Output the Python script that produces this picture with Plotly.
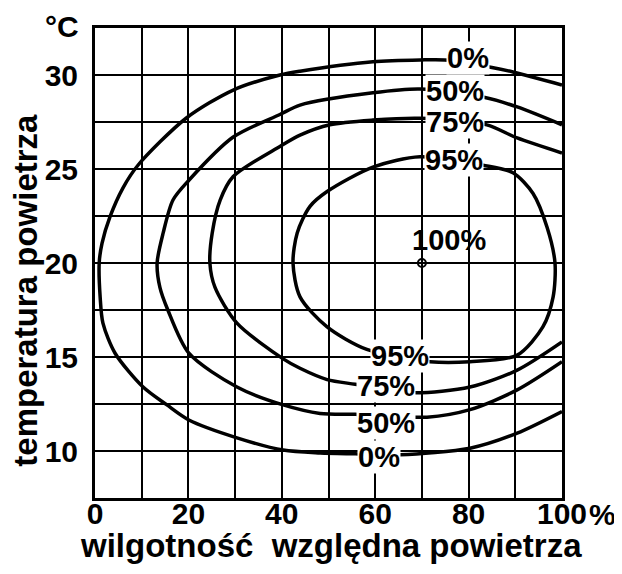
import plotly.graph_objects as go

# ---- data (relative humidity %, air temperature °C) ----
rh_0 = [100, 89.5, 85.0, 74.9, 69.6, 59.5, 43.9, 39.6, 29.6, 19.5, 9.2, 6.0, 3.2, 1.5, 0.9,
        1.1, 1.7, 4.3, 10.3, 15.4, 20.1, 30.4, 40.3, 48.2, 55.7, 65.3, 80.3, 90.4, 100]
t_0 = [29.47, 30.16, 30.4, 30.8, 30.8, 30.7, 30.2, 30.0, 29.2, 27.7, 25.2, 24.0, 22.45, 21.05, 20.0,
       18.2, 16.8, 15.2, 13.4, 12.45, 11.65, 10.7, 10.05, 9.9, 9.85, 9.8, 10.15, 10.95, 12.1]

rh_50 = [100, 90.4, 83.5, 69.6, 59.5, 43.9, 39.6, 29.6, 20.1, 16.7, 14.6, 13.3,
         13.9, 15.6, 20.1, 30.4, 40.3, 48.2, 55.7, 71.1, 80.3, 90.4, 100]
t_50 = [27.35, 28.3, 28.8, 29.25, 29.05, 28.4, 27.9, 26.7, 24.4, 23.35, 21.6, 20.0,
        18.7, 17.5, 15.2, 13.4, 12.45, 12.0, 11.95, 11.8, 12.2, 13.25, 14.75]

rh_75 = [100, 90.4, 83.9, 69.6, 59.5, 50.3, 43.9, 39.6, 29.6, 26.8, 25.1, 24.6,
         25.7, 30.4, 40.3, 43.9, 49.7, 55.7, 68.1, 80.3, 90.4, 100]
t_75 = [25.85, 26.65, 27.35, 27.7, 27.6, 27.35, 26.8, 26.2, 24.6, 23.35, 21.6, 20.0,
        18.7, 16.8, 14.9, 14.4, 13.8, 13.55, 13.1, 13.4, 14.3, 15.8]

rh_95 = [83.1, 89.5, 93.8, 96.8, 98.5, 98.1, 95.9, 90.4, 80.3, 71.7, 58.2, 49.7,
         43.9, 42.4, 43.3, 46.0, 49.7, 59.5, 69.6, 83.1]
t_95 = [25.2, 24.8, 23.7, 21.9, 20.0, 18.2, 16.6, 15.1, 14.75, 14.75, 15.4, 16.6,
        18.2, 20.0, 21.6, 23.0, 23.8, 25.1, 25.65, 25.2]

rh_100 = [70]
t_100 = [20]

label_text = ["0%", "50%", "75%", "95%", "100%", "95%", "75%", "50%", "0%"]
label_rh = [79.9, 77.1, 77.1, 76.8, 75.8, 65.3, 62.3, 62.4, 60.9]
label_t = [30.9, 29.15, 27.5, 25.5, 21.2, 15.05, 13.45, 11.5, 9.7]

x_tickvals = [0, 20, 40, 60, 80, 100]
x_ticktext = ["0", "20", "40", "60", "80", "100"]
y_tickvals = [10, 15, 20, 25, 30]

FONT = "Liberation Sans, Arial, Helvetica, sans-serif"

fig = go.Figure()
for xs, ys in [(rh_0, t_0), (rh_50, t_50), (rh_75, t_75), (rh_95, t_95)]:
    fig.add_trace(go.Scatter(x=xs, y=ys, mode="lines",
                             line=dict(color="black", width=3.5, shape="spline", smoothing=0.8),
                             showlegend=False, hoverinfo="skip"))
fig.add_trace(go.Scatter(x=rh_100, y=t_100, mode="markers",
                         marker=dict(symbol="circle-open", size=8, color="black", line=dict(width=2)),
                         showlegend=False, hoverinfo="skip"))

for txt, xv, yv in zip(label_text, label_rh, label_t):
    fig.add_annotation(x=xv, y=yv, xref="x", yref="y", text=txt, showarrow=False,
                       xanchor="center", yanchor="middle",
                       font=dict(family=FONT, size=29, color="black", weight="bold"),
                       bgcolor="white" if txt != "100%" else "rgba(0,0,0,0)", borderpad=0)

# unit texts and axis titles
fig.add_annotation(x=-0.0707, y=1.004, xref="paper", yref="paper", text="°C", showarrow=False,
                   xanchor="center", yanchor="middle",
                   font=dict(family=FONT, size=30, color="black", weight="bold"))
fig.add_annotation(x=1, y=0, xref="paper", yref="paper", text="%", showarrow=False,
                   xanchor="left", yanchor="middle", xshift=25, yshift=-16,
                   font=dict(family=FONT, size=30, color="black", weight="bold"))
fig.add_annotation(x=0.505, y=-0.1, xref="paper", yref="paper",
                   text="wilgotność  względna powietrza", showarrow=False,
                   xanchor="center", yanchor="middle",
                   font=dict(family=FONT, size=33, color="black", weight="bold"))
fig.add_annotation(x=-0.148, y=0.443, xref="paper", yref="paper",
                   text="temperatura powietrza", showarrow=False, textangle=-90,
                   xanchor="center", yanchor="middle",
                   font=dict(family=FONT, size=33, color="black", weight="bold"))

# the page has an 8px body margin, so the figure is 8px smaller than the window on each side
fig.update_layout(
    width=614, height=566,
    margin=dict(l=87, r=60, t=20, b=76),
    paper_bgcolor="white", plot_bgcolor="white",
    font=dict(family=FONT, color="black"),
)
fig.update_xaxes(range=[0, 100], tickvals=x_tickvals, ticktext=x_ticktext,
                 showgrid=True, gridcolor="black", gridwidth=2,
                 minor=dict(dtick=10, tick0=0, showgrid=True, gridcolor="black", gridwidth=2),
                 showline=True, mirror=True, linewidth=3, linecolor="black",
                 zeroline=False, ticks="", ticklabelstandoff=-13,
                 tickfont=dict(family=FONT, size=30, color="black", weight="bold"))
fig.update_yaxes(range=[7.5, 32.5], tickvals=y_tickvals,
                 showgrid=True, gridcolor="black", gridwidth=2,
                 minor=dict(dtick=2.5, tick0=7.5, showgrid=True, gridcolor="black", gridwidth=2),
                 showline=True, mirror=True, linewidth=3, linecolor="black",
                 zeroline=False, ticks="", ticklabelstandoff=8,
                 tickfont=dict(family=FONT, size=30, color="black", weight="bold"))

fig.write_html("out.html")
